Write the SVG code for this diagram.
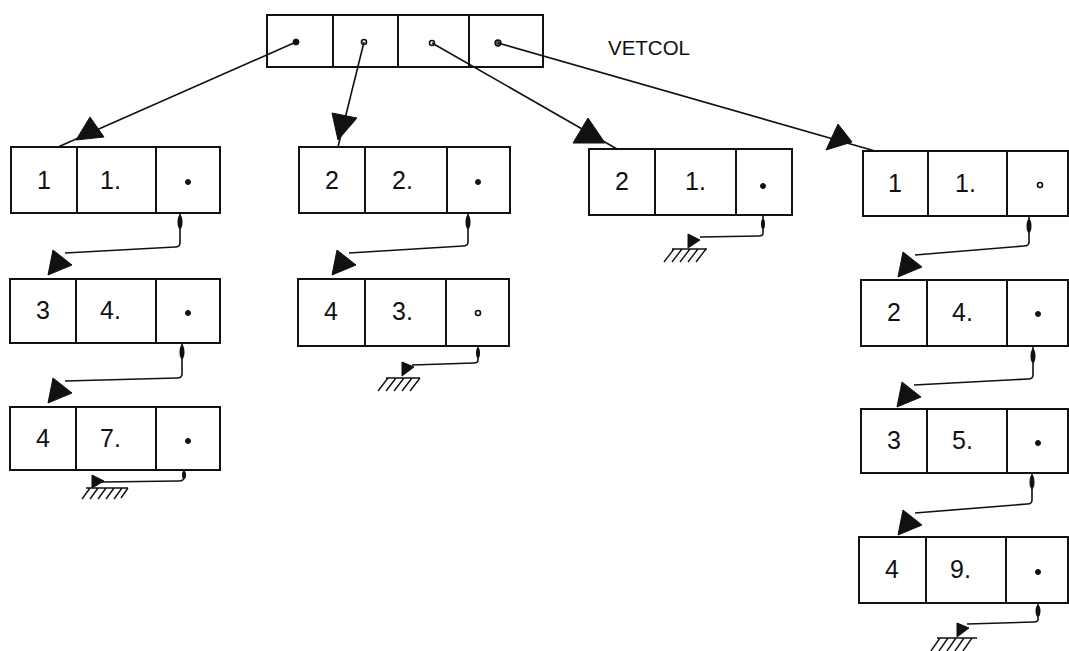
<svg xmlns="http://www.w3.org/2000/svg" width="1069" height="651" viewBox="0 0 1069 651">
<style>
.box{fill:none;stroke:#111;stroke-width:2}
.div{stroke:#111;stroke-width:2}
.t{font-family:"Liberation Sans","DejaVu Sans",sans-serif;font-size:25px;fill:#111}
.c{text-anchor:middle}
.dot{fill:#111;stroke:#111;stroke-width:1}
.ln{fill:none;stroke:#111;stroke-width:1.6;stroke-linejoin:round}
.ah{fill:#111;stroke:#111;stroke-width:1}
.g{fill:none;stroke:#111;stroke-width:1.4}
</style>
<rect width="1069" height="651" fill="#fff"/>

<g id="vetcol">
<rect class="box" x="267" y="15" width="276" height="52"/>
<line class="div" x1="333" y1="15" x2="333" y2="67"/>
<line class="div" x1="398" y1="15" x2="398" y2="67"/>
<line class="div" x1="469" y1="15" x2="469" y2="67"/>
<circle class="dot" cx="296" cy="42" r="3"/>
<circle cx="364" cy="42" r="2.5" fill="#fff" stroke="#111" stroke-width="1.6"/>
<circle cx="432" cy="43" r="2.5" fill="#fff" stroke="#111" stroke-width="1.6"/>
<circle cx="498" cy="43" r="3" fill="#555" stroke="#111" stroke-width="1.4"/>
<text class="t" x="608" y="55" textLength="82" lengthAdjust="spacingAndGlyphs" style="font-size:21px">VETCOL</text>
</g>

<g id="c1n1">
<rect class="box" x="11" y="147" width="209" height="66"/>
<line class="div" x1="77" y1="147" x2="77" y2="213"/>
<line class="div" x1="156" y1="147" x2="156" y2="213"/>
<text class="t c" x="44" y="189">1</text>
<text class="t" x="100" y="189">1.</text>
<circle class="dot" cx="188" cy="182" r="2.5"/>
</g>
<g id="c1n2">
<rect class="box" x="10" y="279" width="210" height="64"/>
<line class="div" x1="76" y1="279" x2="76" y2="343"/>
<line class="div" x1="156" y1="279" x2="156" y2="343"/>
<text class="t c" x="43" y="319">3</text>
<text class="t" x="100" y="319">4.</text>
<circle class="dot" cx="188" cy="313" r="2.5"/>
</g>
<g id="c1n3">
<rect class="box" x="10" y="407" width="210" height="63"/>
<line class="div" x1="76" y1="407" x2="76" y2="470"/>
<line class="div" x1="156" y1="407" x2="156" y2="470"/>
<text class="t c" x="43" y="447">4</text>
<text class="t" x="100" y="447">7.</text>
<circle class="dot" cx="188" cy="441" r="2.5"/>
</g>

<g id="c2n1">
<rect class="box" x="299" y="147" width="211" height="66"/>
<line class="div" x1="365" y1="147" x2="365" y2="213"/>
<line class="div" x1="447" y1="147" x2="447" y2="213"/>
<text class="t c" x="332" y="189">2</text>
<text class="t" x="392" y="189">2.</text>
<circle class="dot" cx="478" cy="182" r="2.5"/>
</g>
<g id="c2n2">
<rect class="box" x="298" y="279" width="211" height="67"/>
<line class="div" x1="365" y1="279" x2="365" y2="346"/>
<line class="div" x1="446" y1="279" x2="446" y2="346"/>
<text class="t c" x="331" y="320">4</text>
<text class="t" x="392" y="320">3.</text>
<circle cx="478" cy="313" r="2.5" fill="#fff" stroke="#111" stroke-width="1.6"/>
</g>

<g id="c3n1">
<rect class="box" x="589" y="149" width="203" height="66"/>
<line class="div" x1="655" y1="149" x2="655" y2="215"/>
<line class="div" x1="736" y1="149" x2="736" y2="215"/>
<text class="t c" x="622" y="190">2</text>
<text class="t" x="685" y="190">1.</text>
<circle class="dot" cx="763" cy="186" r="2.5"/>
</g>

<g id="c4n1">
<rect class="box" x="863" y="151" width="205" height="65"/>
<line class="div" x1="928" y1="151" x2="928" y2="216"/>
<line class="div" x1="1007" y1="151" x2="1007" y2="216"/>
<text class="t c" x="895" y="192">1</text>
<text class="t" x="955" y="192">1.</text>
<circle cx="1040" cy="185" r="2.5" fill="#fff" stroke="#111" stroke-width="1.6"/>
</g>
<g id="c4n2">
<rect class="box" x="861" y="280" width="207" height="66"/>
<line class="div" x1="927" y1="280" x2="927" y2="346"/>
<line class="div" x1="1007" y1="280" x2="1007" y2="346"/>
<text class="t c" x="894" y="321">2</text>
<text class="t" x="952" y="321">4.</text>
<circle class="dot" cx="1038" cy="314" r="2.5"/>
</g>
<g id="c4n3">
<rect class="box" x="861" y="409" width="207" height="64"/>
<line class="div" x1="927" y1="409" x2="927" y2="473"/>
<line class="div" x1="1007" y1="409" x2="1007" y2="473"/>
<text class="t c" x="894" y="449">3</text>
<text class="t" x="952" y="449">5.</text>
<circle class="dot" cx="1038" cy="443" r="2.5"/>
</g>
<g id="c4n4">
<rect class="box" x="859" y="537" width="209" height="66"/>
<line class="div" x1="926" y1="537" x2="926" y2="603"/>
<line class="div" x1="1006" y1="537" x2="1006" y2="603"/>
<text class="t c" x="892" y="578">4</text>
<text class="t" x="950" y="578">9.</text>
<circle class="dot" cx="1038" cy="572" r="2.5"/>
</g>

<g id="connectors">
<line class="ln" x1="296" y1="42" x2="58" y2="147"/>
<polygon class="ah" points="76,140 90,117 104,137"/>
<line class="ln" x1="364" y1="42" x2="338" y2="147"/>
<polygon class="ah" points="332,113 357,118 338,140"/>
<line class="ln" x1="432" y1="43" x2="617" y2="149"/>
<polygon class="ah" points="573,143 588,118 605,143"/>
<line class="ln" x1="498" y1="43" x2="875" y2="151"/>
<polygon class="ah" points="826,150 838,124 852,142"/>

<path class="ln" d="M180,213 L180,243 Q180,247 175,247 L65,253"/>
<ellipse cx="180" cy="222" rx="2.5" ry="7" fill="#111"/>
<polygon class="ah" points="48,275 53,250 72,265"/>

<path class="ln" d="M182,343 L182,374 Q182,378 177,378 L65,381"/>
<ellipse cx="182" cy="352" rx="2.5" ry="7" fill="#111"/>
<polygon class="ah" points="48,403 53,378 72,393"/>

<path class="ln" d="M468,213 L468,242 Q468,246 463,246 L349,253"/>
<ellipse cx="468" cy="222" rx="2.5" ry="7" fill="#111"/>
<polygon class="ah" points="332,275 337,250 356,265"/>

<path class="ln" d="M1029,216 L1029,242 Q1029,246 1024,246 L915,255"/>
<ellipse cx="1029" cy="226" rx="2.5" ry="7" fill="#111"/>
<polygon class="ah" points="898,277 903,252 922,267"/>

<path class="ln" d="M1033,346 L1033,375 Q1033,379 1028,379 L914,385"/>
<ellipse cx="1033" cy="356" rx="2.5" ry="7" fill="#111"/>
<polygon class="ah" points="897,407 902,382 921,397"/>

<path class="ln" d="M1032,473 L1032,500 Q1032,504 1027,504 L915,513"/>
<ellipse cx="1032" cy="482" rx="2.5" ry="7" fill="#111"/>
<polygon class="ah" points="898,535 903,510 922,525"/>

<path class="ln" d="M184,470 L184,477 Q184,481 179,481 L102,482"/>
<ellipse cx="184" cy="475" rx="2" ry="4" fill="#111"/>
<polygon class="ah" points="92,488 92,475 104,481"/>
<path class="g" d="M86,488 L128,488 M90,488 L82,499 M98,488 L90,499 M106,488 L98,499 M114,488 L106,499 M122,488 L114,499 M128,488 L121,498"/>

<path class="ln" d="M478,346 L478,360 Q478,363 474,363 L412,365"/>
<ellipse cx="478" cy="353" rx="2" ry="5" fill="#111"/>
<polygon class="ah" points="402,376 402,362 414,367"/>
<path class="g" d="M386,378 L420,378 M388,378 L378,391 M396,378 L386,391 M404,378 L394,391 M412,378 L402,391 M420,378 L410,391"/>

<path class="ln" d="M763,215 L763,233 Q763,236 759,236 L700,237"/>
<ellipse cx="763" cy="224" rx="2" ry="5" fill="#111"/>
<polygon class="ah" points="688,248 688,234 700,240"/>
<path class="g" d="M672,249 L707,249 M674,249 L664,262 M682,249 L672,262 M690,249 L680,262 M698,249 L688,262 M706,249 L696,262"/>

<path class="ln" d="M1038,603 L1038,619 Q1038,622 1034,622 L967,624"/>
<ellipse cx="1038" cy="611" rx="2.5" ry="6" fill="#111"/>
<polygon class="ah" points="957,637 957,623 969,628"/>
<path class="g" d="M937,638 L977,638 M940,638 L931,651 M948,638 L939,651 M956,638 L947,651 M964,638 L955,651 M972,638 L963,651"/>
</g>
</svg>
